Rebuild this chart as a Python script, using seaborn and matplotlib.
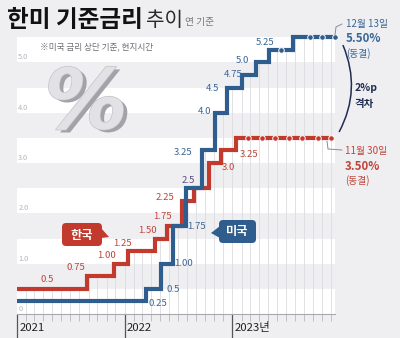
import numpy as np
import pandas as pd
import matplotlib
matplotlib.use("Agg")
import matplotlib.pyplot as plt
import matplotlib.dates as mdates
import matplotlib.patheffects as pe
from matplotlib.patches import FancyBboxPatch, Polygon, FancyArrowPatch
from matplotlib.transforms import IdentityTransform
import seaborn as sns

# ---- data -------------------------------------------------------------
kr_dates = ["2021-01-01", "2021-08-26", "2021-11-25", "2022-01-14", "2022-04-14",
            "2022-05-26", "2022-07-13", "2022-08-25", "2022-10-12", "2022-11-24",
            "2023-01-13", "2023-11-30"]
kr_rates = [0.5, 0.75, 1.0, 1.25, 1.5, 1.75, 2.25, 2.5, 3.0, 3.25, 3.5, 3.5]

us_dates = ["2021-01-01", "2022-03-16", "2022-05-04", "2022-06-15", "2022-07-27",
            "2022-09-21", "2022-11-02", "2022-12-14", "2023-02-01", "2023-03-22",
            "2023-05-03", "2023-07-26", "2023-12-13"]
us_rates = [0.25, 0.5, 1.0, 1.75, 2.5, 3.25, 4.0, 4.5, 4.75, 5.0, 5.25, 5.5, 5.5]

# meetings where the rate was left unchanged
kr_hold_dates = ["2023-02-23", "2023-04-11", "2023-05-25", "2023-07-13",
                 "2023-08-24", "2023-10-19", "2023-11-30"]
kr_hold_rates = [3.5, 3.5, 3.5, 3.5, 3.5, 3.5, 3.5]
us_hold_dates = ["2023-06-14", "2023-09-20", "2023-11-01", "2023-12-13"]
us_hold_rates = [5.25, 5.5, 5.5, 5.5]

# step labels: (text, date, rate)
kr_labels = [("0.5", "2021-04-13", 0.68), ("0.75", "2021-07-20", 0.93),
             ("1.00", "2021-11-02", 1.17), ("1.25", "2021-12-26", 1.41),
             ("1.50", "2022-03-21", 1.65), ("1.75", "2022-05-11", 1.93),
             ("2.25", "2022-05-18", 2.31), ("3.0", "2022-12-17", 2.92),
             ("3.25", "2023-02-26", 3.18)]
us_labels = [("0.25", "2022-04-24", 0.20), ("0.5", "2022-06-14", 0.48),
             ("1.00", "2022-07-18", 1.01), ("1.75", "2022-08-31", 1.73),
             ("3.25", "2022-07-18", 3.22), ("4.0", "2022-09-27", 4.03),
             ("4.5", "2022-10-27", 4.49), ("4.75", "2023-01-02", 4.77),
             ("5.0", "2023-02-05", 5.03), ("5.25", "2023-04-21", 5.40)]
both_labels = [("2.5", "2022-08-04", 2.66)]

y_ticks = [0, 1, 2, 3, 4, 5]
y_tick_labels = ["0", "1.0", "2.0", "3.0", "4.0", "5.0"]
years = ["2021", "2022", "2023"]
year_labels = ["2021", "2022", "2023년"]

# ---- style ------------------------------------------------------------
BG = "#efeff2"
BLUE = "#2f5d8e"
BLUE_TXT = "#3a6796"
RED = "#c13a2d"
RED_TXT = "#c0453a"
PURPLE = "#5b4b86"
NAVY = "#1f2d50"

sns.set_theme(style="white")
plt.rcParams["font.family"] = ["Noto Sans CJK KR", "DejaVu Sans"]

W, H = 400, 338
def fx(x):
    return x / W
def fy(y):
    return 1 - y / H

fig = plt.figure(figsize=(W / 100, H / 100), dpi=100, facecolor=BG)
ax = fig.add_axes([fx(16.7), fy(314), (335 - 16.7) / W, (314 - 37.3) / H])
ax.set_facecolor(BG)

x0, x1 = pd.Timestamp("2021-01-01"), pd.Timestamp("2023-12-14")
ax.set_xlim(x0, x1)
ax.set_ylim(0, 5.5)

# alternating white bands
for k in y_ticks:
    ax.axhspan(k, k + 0.5, color="white", lw=0, zorder=0)

kr_d = pd.to_datetime(kr_dates)
us_d = pd.to_datetime(us_dates)

# monthly guide lines under the upper curve
months = pd.date_range("2021-02-01", "2023-12-01", freq="MS")
def level(dates, rates, t):
    i = np.searchsorted(dates.values, t.to_datetime64(), side="right") - 1
    return rates[max(i, 0)]
tops = [max(level(kr_d, kr_rates, m), level(us_d, us_rates, m)) for m in months]
ax.vlines(months, 0, tops, color="#dcdce1", lw=0.6, zorder=1)

df = pd.concat([
    pd.DataFrame({"date": kr_d, "rate": kr_rates, "country": "한국"}),
    pd.DataFrame({"date": us_d, "rate": us_rates, "country": "미국"}),
])
sns.lineplot(data=df, x="date", y="rate", hue="country", hue_order=["한국", "미국"],
             palette={"한국": RED, "미국": BLUE}, drawstyle="steps-post",
             estimator=None, lw=3.0, legend=False, ax=ax, zorder=3,
             solid_joinstyle="miter", solid_capstyle="butt", clip_on=False)

sns.scatterplot(x=pd.to_datetime(kr_hold_dates), y=kr_hold_rates, color=RED, s=16,
                edgecolor="white", linewidth=0.7, ax=ax, zorder=4, clip_on=False)
sns.scatterplot(x=pd.to_datetime(us_hold_dates), y=us_hold_rates, color=BLUE, s=16,
                edgecolor="white", linewidth=0.7, ax=ax, zorder=4, clip_on=False)

# step value labels
for txt, d, v in kr_labels:
    ax.text(pd.Timestamp(d), v, txt, color=RED_TXT, fontsize=6.9, ha="center",
            va="center", zorder=5)
for txt, d, v in us_labels:
    ax.text(pd.Timestamp(d), v, txt, color=BLUE_TXT, fontsize=6.9, ha="center",
            va="center", zorder=5)
for txt, d, v in both_labels:
    ax.text(pd.Timestamp(d), v, txt, color=PURPLE, fontsize=6.9, ha="center",
            va="center", zorder=5)

# y labels inside the plot
for v, s in zip(y_ticks, y_tick_labels):
    ax.annotate(s, xy=(0, v), xycoords=("axes fraction", "data"), xytext=(1.5, 5),
                textcoords="offset pixels", color="#b4b4ba", fontsize=5.3,
                ha="left", va="center", zorder=5)

# axes and ticks
for side in ["top", "left", "right"]:
    ax.spines[side].set_visible(False)
ax.spines["bottom"].set_color("#a8a8ae")
ax.spines["bottom"].set_linewidth(0.8)
ax.set_yticks([])
ax.xaxis.set_major_locator(mdates.YearLocator())
ax.xaxis.set_minor_locator(mdates.MonthLocator())
ax.tick_params(axis="x", which="major", length=17, width=0.9, color="#555555",
               labelbottom=False, bottom=True)
ax.tick_params(axis="x", which="minor", length=5, width=0.6, color="#b8b8be",
               bottom=True)
ax.set_xlabel("")
ax.set_ylabel("")
for y, lab in zip(years, year_labels):
    ax.annotate(lab, xy=(pd.Timestamp(y + "-01-01"), 0),
                xycoords=("data", "axes fraction"), xytext=(2.5, -14),
                textcoords="offset pixels", ha="left", va="center",
                fontsize=8.2, color="#222222", fontweight="medium")

# ---- title and notes --------------------------------------------------
fig.text(fx(7), fy(20), "한미 기준금리", fontsize=17, fontweight="bold",
         color="#111111", ha="left", va="center")
fig.text(fx(146), fy(20), "추이", fontsize=14.5, color="#2a2a2a", ha="left",
         va="center")
fig.text(fx(185), fy(22), "연 기준", fontsize=7, color="#777777", ha="left",
         va="center")
fig.text(fx(40), fy(47), "※미국 금리 상단 기준, 현지시간", fontsize=6.2,
         color="#6f6f75", ha="left", va="center")

# big percent sign
fig.text(fx(86), fy(105), "%", fontsize=60, fontweight="bold", fontstyle="oblique",
         family="DejaVu Sans", color="#e2e2e6", ha="center", va="center",
         path_effects=[pe.withSimplePatchShadow(offset=(3, -2),
                                                shadow_rgbFace="#a2a2a8", alpha=1),
                       pe.Stroke(linewidth=1.0, foreground="#c2c2c8"),
                       pe.Normal()])

# ---- country tags -----------------------------------------------------
ident = IdentityTransform()
def tag(xa, ya, xb, yb, color, text, pointer):
    box = FancyBboxPatch((xa, H - yb), xb - xa, yb - ya,
                         boxstyle="round,pad=0,rounding_size=4", fc=color, ec="none",
                         transform=ident, zorder=6)
    fig.patches.append(box)
    fig.patches.append(Polygon([(px, H - py) for px, py in pointer], closed=True,
                               fc=color, ec="none", transform=ident, zorder=6))
    fig.text(fx((xa + xb) / 2), fy((ya + yb) / 2 + 0.5), text, color="white",
             fontsize=8.8, fontweight="bold", ha="center", va="center", zorder=7)

tag(62, 223, 102, 246, RED, "한국", [(101, 228), (109, 237), (101, 238)])
tag(219, 220, 256, 243, BLUE, "미국", [(220, 226), (211, 233), (220, 238)])

# ---- end annotations --------------------------------------------------
fig.text(fx(346), fy(24), "12월 13일", color=BLUE_TXT, fontsize=7, ha="left", va="center")
fig.text(fx(346), fy(39), "5.50%", color=BLUE_TXT, fontsize=8.3, fontweight="bold",
         ha="left", va="center")
fig.text(fx(346), fy(54), "(동결)", color=BLUE_TXT, fontsize=7, ha="left", va="center")

fig.text(fx(345), fy(151), "11월 30일", color=RED_TXT, fontsize=7, ha="left", va="center")
fig.text(fx(345), fy(166), "3.50%", color=RED_TXT, fontsize=8.3, fontweight="bold",
         ha="left", va="center")
fig.text(fx(345), fy(181), "(동결)", color=RED_TXT, fontsize=7, ha="left", va="center")

fig.lines.append(plt.Line2D([fx(335), fx(336), fx(342)], [fy(35), fy(27), fy(24)],
                            transform=fig.transFigure, color="#8a8a90", lw=0.7))
fig.lines.append(plt.Line2D([fx(327), fx(328), fx(342)], [fy(141), fy(149), fy(150)],
                            transform=fig.transFigure, color="#8a8a90", lw=0.7))

arc = FancyArrowPatch((342, H - 43), (338, H - 134), arrowstyle="-",
                      connectionstyle="arc3,rad=-0.25", color=NAVY, lw=1.1,
                      transform=ident)
fig.patches.append(arc)
fig.text(fx(355), fy(88), "2%p", color=NAVY, fontsize=7.5, fontweight="bold",
         ha="left", va="center")
fig.text(fx(355), fy(104), "격차", color=NAVY, fontsize=7.5, fontweight="bold",
         ha="left", va="center")

fig.savefig("out.png", dpi=100, facecolor=BG)
